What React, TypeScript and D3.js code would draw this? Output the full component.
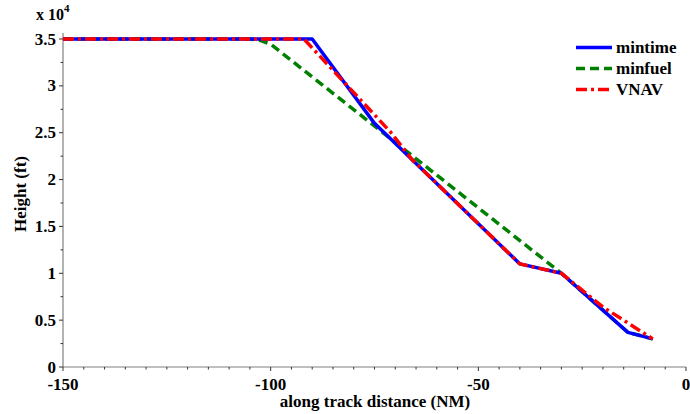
import React from "react";
import * as d3 from "d3";

// Along-track distance (NM) and altitude (ft) for each descent profile
const mintimeDist = [-150, -90, -75, -40, -30, -14, -8];
const mintimeAlt = [35000, 35000, 26000, 11000, 10000, 3700, 3000];

const minfuelDist = [-150, -105, -102.5, -100, -30, -14, -8];
const minfuelAlt = [35000, 35000, 34850, 34450, 10000, 3700, 3000];

const vnavDist = [-150, -92, -71, -66, -40, -30, -20, -8];
const vnavAlt = [35000, 35000, 25000, 22150, 11000, 10000, 6400, 3000];

const xTicks = [-150, -100, -50, 0];
const yTicks = [0, 5000, 10000, 15000, 20000, 25000, 30000, 35000];
const yTickLabels = ["0", "0.5", "1", "1.5", "2", "2.5", "3", "3.5"];

const seriesNames = ["mintime", "minfuel", "VNAV"];
const seriesColors = ["#0000ff", "#008000", "#ff0000"];
const seriesDashes = ["none", "9 5", "11 4 3 4"];

const W = 690;
const H = 414;
const left = 63;
const right = 686;
const top = 39;
const bottom = 367;
const axisColor = "#808080";

function Label(props: any) {
  const { children, ...rest } = props;
  return (
    <text
      fontWeight="bold"
      fontSize={17}
      style={{ fontFamily: '"Liberation Serif", serif' }}
      {...rest}
    >
      {children}
    </text>
  );
}

export default function App() {
  const x = d3.scaleLinear().domain([-150, 0]).range([left, right]);
  const y = d3.scaleLinear().domain([0, 35000]).range([bottom, top]);

  const line = d3
    .line<[number, number]>()
    .x((d) => x(d[0]))
    .y((d) => y(d[1]));

  const series = [
    mintimeDist.map((d, i) => [d, mintimeAlt[i]] as [number, number]),
    minfuelDist.map((d, i) => [d, minfuelAlt[i]] as [number, number]),
    vnavDist.map((d, i) => [d, vnavAlt[i]] as [number, number]),
  ];

  const xMinor = d3.range(-150, 0.001, 5);
  const yMinor = d3.range(0, 35001, 2500);

  // draw order: minfuel underneath, then mintime, then VNAV on top
  const drawOrder = [1, 0, 2];

  return (
    <svg width={W} height={H} style={{ position: "absolute", left: 0, top: 0 }}>
      <rect width={W} height={H} fill="#fff" />

      {/* axes */}
      <line x1={left} x2={left} y1={top - 6} y2={bottom} stroke={axisColor} strokeWidth={1.2} />
      <line x1={left} x2={right} y1={bottom} y2={bottom} stroke={axisColor} strokeWidth={1.2} />

      {xMinor.map((v) => (
        <line
          key={"xm" + v}
          x1={x(v)}
          x2={x(v)}
          y1={bottom}
          y2={bottom + (v % 50 === 0 ? 4 : 2.5)}
          stroke="#333"
          strokeWidth={1}
        />
      ))}
      {yMinor.map((v) => (
        <line
          key={"ym" + v}
          x1={left - (v % 5000 === 0 ? 4 : 2.5)}
          x2={left}
          y1={y(v)}
          y2={y(v)}
          stroke="#333"
          strokeWidth={1}
        />
      ))}

      {xTicks.map((v) => (
        <Label key={"xt" + v} x={x(v)} y={390} textAnchor="middle">
          {v}
        </Label>
      ))}
      {yTicks.map((v, i) => (
        <Label key={"yt" + v} x={56} y={y(v) + 5.5} textAnchor="end">
          {yTickLabels[i]}
        </Label>
      ))}

      <Label x={36} y={20} fontSize={16}>
        x 10
        <tspan dy={-8} fontSize={11}>
          4
        </tspan>
      </Label>

      <Label x={375} y={407} textAnchor="middle">
        along track distance (NM)
      </Label>
      <Label transform="translate(26,194) rotate(-90)" textAnchor="middle">
        Height (ft)
      </Label>

      {/* profiles */}
      {drawOrder.map((i) => (
        <path
          key={seriesNames[i]}
          d={line(series[i]) || ""}
          fill="none"
          stroke={seriesColors[i]}
          strokeWidth={3.5}
          strokeDasharray={seriesDashes[i]}
          strokeLinejoin="round"
        />
      ))}

      {/* legend */}
      {seriesNames.map((name, i) => (
        <g key={"lg" + name} transform={`translate(0,${47.5 + i * 21})`}>
          <line
            x1={576}
            x2={612}
            y1={0}
            y2={0}
            stroke={seriesColors[i]}
            strokeWidth={3.5}
            strokeDasharray={seriesDashes[i]}
          />
          <Label x={616} y={5.5}>
            {name}
          </Label>
        </g>
      ))}
    </svg>
  );
}
